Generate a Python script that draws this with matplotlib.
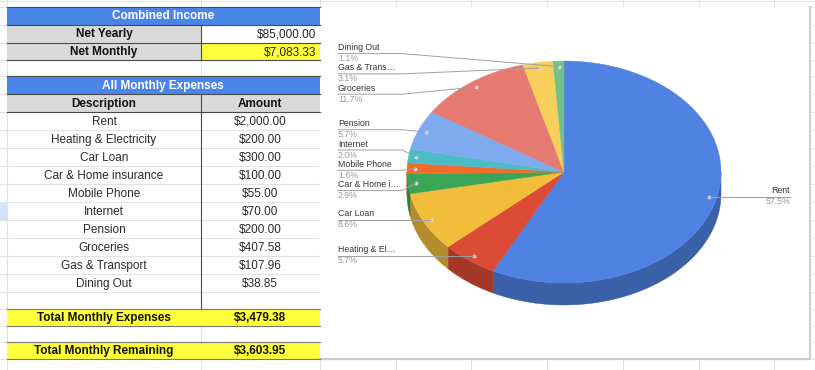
import numpy as np
import matplotlib.pyplot as plt
from matplotlib.patches import Rectangle, Polygon
from matplotlib import colors as mcolors

plt.rcParams['font.family'] = ['Liberation Sans', 'DejaVu Sans']

# data
income_labels = ['Net Yearly', 'Net Monthly']
income_values = [85000.00, 7083.33]
expense_names = ['Rent', 'Heating & Electricity', 'Car Loan', 'Car & Home insurance',
                 'Mobile Phone', 'Internet', 'Pension', 'Groceries', 'Gas & Transport', 'Dining Out']
expense_amounts = [2000.00, 200.00, 300.00, 100.00, 55.00, 70.00, 200.00, 407.58, 107.96, 38.85]
total_expenses = 3479.38
total_remaining = 3603.95
pie_labels = ['Rent', 'Heating & El…', 'Car Loan', 'Car & Home i…', 'Mobile Phone',
              'Internet', 'Pension', 'Groceries', 'Gas & Trans…', 'Dining Out']
slice_colors = ['#4f82e2', '#dc4b36', '#f3bd3c', '#3aa655', '#f26b2a',
                '#4bbcc4', '#7eaaf0', '#e57b70', '#f7cf5a', '#72c08a']

money = lambda v: '${:,.2f}'.format(v)

fig = plt.figure(figsize=(8.15, 3.70), dpi=100)
ax = fig.add_axes([0, 0, 1, 1])
ax.set_xlim(0, 815)
ax.set_ylim(370, 0)
ax.axis('off')

# sheet grid
heights = [18, 18, 17.5, 16, 18, 18] + [18] * 10 + [16.5, 17.5, 16, 17]
rows = np.concatenate([[6.5], 6.5 + np.cumsum(heights)])
cols = [7, 201, 319.5] + list(320 + 75.7 * np.arange(1, 7))
grid = '#e2e2e2'
for y in list(rows) + [0.5]:
    ax.plot([0, 815], [y, y], color=grid, lw=0.8, zorder=0)
for x in cols:
    ax.plot([x, x], [0, 370], color=grid, lw=0.8, zorder=0)
ax.add_patch(Rectangle((0, 203), 6.5, 16, color='#d6e4fb', zorder=0))

# table
blue, gray, yellow, dark = '#4a86e8', '#d9d9d9', '#ffff3b', '#4a4a4a'
xa0, xa1, xb1 = 7, 201, 319.5
fs = 8.5

def cell(r, x0, x1, color):
    ax.add_patch(Rectangle((x0, rows[r]), x1 - x0, rows[r + 1] - rows[r],
                           facecolor=color, edgecolor='none', zorder=1))

def mid(r):
    return (rows[r] + rows[r + 1]) / 2 + 0.8

def hline(y, color=dark, x0=xa0, x1=xb1):
    ax.plot([x0, x1], [y, y], color=color, lw=0.8, zorder=2)

def vline(x, y0, y1, color=dark):
    ax.plot([x, x], [y0, y1], color=color, lw=0.8, zorder=2)

cell(0, xa0, xb1, blue)
ax.text((xa0 + xb1) / 2, mid(0), 'Combined Income', color='white', fontsize=fs,
        fontweight='bold', ha='center', va='center', zorder=3)
for i, (lab, val) in enumerate(zip(income_labels, income_values)):
    r = 1 + i
    cell(r, xa0, xa1, gray)
    cell(r, xa1, xb1, yellow if i == 1 else 'white')
    ax.text((xa0 + xa1) / 2, mid(r), lab, fontsize=fs, fontweight='bold',
            ha='center', va='center', color='#111', zorder=3)
    ax.text(xb1 - 3, mid(r), money(val), fontsize=fs, ha='right', va='center',
            color='#222', zorder=3)
for y in rows[0:4]:
    hline(y)
vline(xa1, rows[1], rows[3])

cell(4, xa0, xb1, blue)
ax.text((xa0 + xb1) / 2, mid(4), 'All Monthly Expenses', color='white', fontsize=fs,
        fontweight='bold', ha='center', va='center', zorder=3)
cell(5, xa0, xa1, gray)
cell(5, xa1, xb1, gray)
ax.text((xa0 + xa1) / 2, mid(5), 'Description', fontsize=fs, fontweight='bold',
        ha='center', va='center', color='#111', zorder=3)
ax.text((xa1 + xb1) / 2, mid(5), 'Amount', fontsize=fs, fontweight='bold',
        ha='center', va='center', color='#111', zorder=3)
for y in rows[4:7]:
    hline(y)
vline(xa1, rows[5], rows[17])

for i, (name, amt) in enumerate(zip(expense_names, expense_amounts)):
    r = 6 + i
    ax.text((xa0 + xa1) / 2, mid(r), name, fontsize=fs, ha='center', va='center',
            color='#2a2a2a', zorder=3)
    ax.text((xa1 + xb1) / 2, mid(r), money(amt), fontsize=fs, ha='center',
            va='center', color='#2a2a2a', zorder=3)

for r, lab, val in [(17, 'Total Monthly Expenses', total_expenses),
                    (19, 'Total Monthly Remaining', total_remaining)]:
    cell(r, xa0, xb1, yellow)
    ax.text((xa0 + xa1) / 2, mid(r), lab, fontsize=fs, fontweight='bold',
            ha='center', va='center', color='#111', zorder=3)
    ax.text((xa1 + xb1) / 2, mid(r), money(val), fontsize=fs, fontweight='bold',
            ha='center', va='center', color='#111', zorder=3)
    hline(rows[r], '#777')
    hline(rows[r + 1], '#777')

# chart area
ax.add_patch(Rectangle((320, 6.5), 490, 352, facecolor='white', edgecolor='none', zorder=1))
ax.plot([810, 810, 320], [6.5, 358.5, 358.5], color='#cfcfcf', lw=1.6, zorder=1)

# 3d pie
cx, cy, rx, ry, depth = 564, 172, 157, 111, 22
amounts = np.array(expense_amounts)
edges = np.concatenate([[0], np.cumsum(amounts / amounts.sum() * 360)])

def pt(t, f=1.0, dy=0.0):
    t = np.radians(t)
    return cx + f * rx * np.sin(t), cy - f * ry * np.cos(t) + dy

for i, c in enumerate(slice_colors):
    a, b = max(edges[i], 90), min(edges[i + 1], 270)
    if b > a:
        t = np.linspace(a, b, 80)
        x, y = pt(t)
        xs = np.concatenate([x, x[::-1]])
        ys = np.concatenate([y, (y + depth)[::-1]])
        dc = np.array(mcolors.to_rgb(c)) * 0.74
        ax.add_patch(Polygon(np.column_stack([xs, ys]), closed=True, facecolor=dc,
                             edgecolor=dc, lw=0.3, zorder=3))
for i, c in enumerate(slice_colors):
    t = np.linspace(edges[i], edges[i + 1], 120)
    x, y = pt(t)
    xs = np.concatenate([[cx], x])
    ys = np.concatenate([[cy], y])
    ax.add_patch(Polygon(np.column_stack([xs, ys]), closed=True, facecolor=c,
                         edgecolor=c, lw=0.3, zorder=4))

# labels
mids = (edges[:-1] + edges[1:]) / 2
dots = [pt(m, 0.95) for m in mids]
pct = amounts / amounts.sum() * 100

gap = 20.3
left = sorted([i for i in range(len(mids)) if mids[i] > 180], key=lambda i: dots[i][1])
groups = []
for i in left:
    groups.append([i])
    while len(groups) > 1:
        g1, g2 = groups[-2], groups[-1]
        s1 = np.mean([dots[k][1] for k in g1]) - (len(g1) - 1) * gap / 2
        s2 = np.mean([dots[k][1] for k in g2]) - (len(g2) - 1) * gap / 2
        if s2 - (s1 + (len(g1) - 1) * gap) < gap:
            groups[-2:] = [g1 + g2]
        else:
            break
label_y = {}
for g in groups:
    s = np.mean([dots[k][1] for k in g]) - (len(g) - 1) * gap / 2
    for j, k in enumerate(g):
        label_y[k] = s + j * gap

lfs = 6.3
lc = '#a0a0a0'
for i in range(len(mids)):
    dx, dy = dots[i]
    ax.plot(dx, dy, 'o', ms=1.8, color='#d8d8d8', zorder=6)
    if i in label_y:
        ly = label_y[i]
        ax.plot([338, 402, dx], [ly, ly, dy], color=lc, lw=0.7, zorder=6)
        ax.text(338, ly - 1.5, pie_labels[i], fontsize=lfs, color='#333',
                ha='left', va='bottom', zorder=7)
        ax.text(338, ly + 0.5, '{:.1f}%'.format(pct[i]), fontsize=lfs, color='#9a9a9a',
                ha='left', va='top', zorder=7)
    else:
        ly = dy
        ax.plot([dx, 723, 790], [dy, ly, ly], color=lc, lw=0.7, zorder=6)
        ax.text(790, ly - 1.5, pie_labels[i], fontsize=lfs, color='#333',
                ha='right', va='bottom', zorder=7)
        ax.text(790, ly + 0.5, '{:.1f}%'.format(pct[i]), fontsize=lfs, color='#9a9a9a',
                ha='right', va='top', zorder=7)

fig.savefig('out.png', dpi=100)
